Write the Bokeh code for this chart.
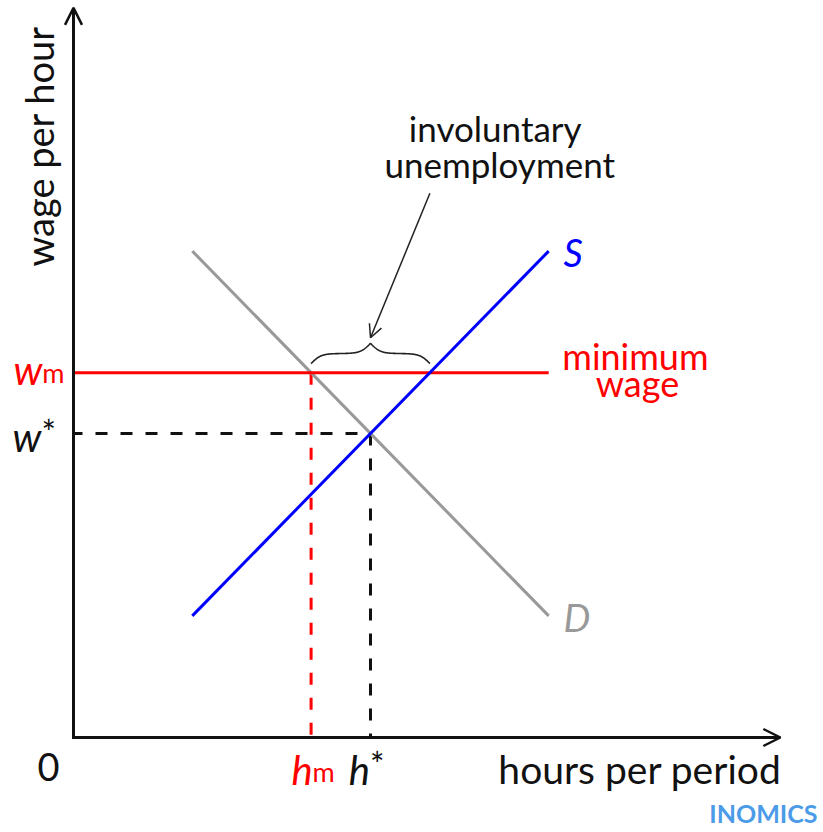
import numpy as np
from bokeh.plotting import figure
from bokeh.models import Range1d, Arrow, OpenHead, Label
from bokeh.embed import file_html
from bokeh.resources import INLINE

# ---- data (economic units) ----
supply_h = [4, 16]
supply_w = [4, 16]
demand_h = [4, 16]
demand_w = [16, 4]
w_star = 10
h_star = 10
w_min = 12
h_min = 8
h_supply_at_min = 12
min_wage_h = [0, 16]
x_axis_end = 23.8
y_axis_end = 24.0

FONT = "Lato"
BLACK = "#111111"
RED = "#ff0000"
BLUE = "#0000ff"
GRAY = "#999999"

p = figure(width=823, height=832,
           x_range=Range1d(-2.458, 25.253), y_range=Range1d(-3.125, 24.243),
           output_backend="svg", toolbar_location=None, min_border=0,
           x_axis_type=None, y_axis_type=None)
p.outline_line_color = None
p.background_fill_color = "white"

# dashed guides
p.line([0, h_star], [w_star, w_star], line_color=BLACK, line_width=3, line_dash="12 13", line_dash_offset=3)
p.line([h_star, h_star], [w_star, 0], line_color=BLACK, line_width=3, line_dash="12 13")
p.line([h_min, h_min], [w_min, 0], line_color=RED, line_width=3, line_dash="12 13")

# demand, minimum wage, supply
p.line(demand_h, demand_w, line_color=GRAY, line_width=3)
p.line(min_wage_h, [w_min, w_min], line_color=RED, line_width=3)
p.line(supply_h, supply_w, line_color=BLUE, line_width=3)

# axes
p.line([0, 0, x_axis_end], [y_axis_end, 0, 0], line_color=BLACK, line_width=3, line_join="miter")
p.add_layout(Arrow(end=OpenHead(size=17, line_width=2.5, line_color=BLACK),
                   x_start=x_axis_end - 0.5, y_start=0, x_end=x_axis_end, y_end=0,
                   line_width=3, line_color=BLACK))
p.add_layout(Arrow(end=OpenHead(size=17, line_width=2.5, line_color=BLACK),
                   x_start=0, y_start=y_axis_end - 0.5, x_end=0, y_end=y_axis_end,
                   line_width=3, line_color=BLACK))

# curly brace over the unemployment gap
def brace_path(x0, x1, y0, height, beta=6.0, n=400):
    xs = np.linspace(x0, x1, n)
    half = n // 2
    hx = xs[:half]
    hy = 1 / (1 + np.exp(-beta * (hx - hx[0]))) + 1 / (1 + np.exp(-beta * (hx - hx[-1])))
    ys = np.concatenate([hy, hy[::-1]])
    ys = (ys - ys.min()) / (ys.max() - ys.min())
    return xs, y0 + height * ys

bx, by = brace_path(h_min, h_supply_at_min, w_min + 0.30, 0.66)
p.line(bx, by, line_color="#222222", line_width=1.6)

brace_mid = (h_min + h_supply_at_min) / 2
p.add_layout(Arrow(end=OpenHead(size=13, line_width=1.5, line_color="#222222"),
                   x_start=brace_mid + 2.0, y_start=w_min + 5.9,
                   x_end=brace_mid, y_end=w_min + 1.15,
                   line_width=1.5, line_color="#222222"))

def lab(text, x, y, size, color=BLACK, align="left", style="normal", angle=0, baseline="alphabetic"):
    p.add_layout(Label(x=x, y=y, text=text, text_font=FONT, text_font_size=f"{size}px",
                       text_color=color, text_align=align, text_font_style=style,
                       text_baseline=baseline, angle=angle))

# axis titles
lab("hours per period", x_axis_end + 0.04, -1.05, 39, align="right")
lab("0", -0.842, -0.98, 38, align="center")
lab("wage per hour", -1.17, 23.40, 38, align="right", angle=np.pi / 2)

# tick-like symbols
lab("w", -1.05, w_min + 0.10, 40, color=RED, align="right", style="italic")
lab("m", -1.05, w_min + 0.02, 27, color=RED, align="left")
lab("w", -1.08, w_star - 0.10, 40, align="right", style="italic")
lab("*", -1.08, w_star + 0.05, 34, align="left")
lab("h", h_min + 0.05, -1.08, 40, color=RED, align="right", style="italic")
lab("m", h_min + 0.05, -1.12, 27, color=RED, align="left")
lab("h", h_star - 0.02, -1.08, 40, align="right", style="italic")
lab("*", h_star - 0.02, -0.87, 34, align="left")

# curve labels
lab("S", 16.5, 15.96, 38, color=BLUE, style="italic")
lab("D", 16.5, 3.98, 38, color=GRAY, style="italic")
lab("minimum", 18.92, 12.55, 36, color=RED, align="center")
lab("wage", 18.99, 11.65, 36, color=RED, align="center")

# annotation text
lab("involuntary", 14.2, 20.06, 35, align="center")
lab("unemployment", 14.35, 18.85, 35, align="center")

# watermark
lab("INOMICS", 25.05, -2.50, 25, color="#4c9be8", align="right", style="bold")

open("out.html", "w").write(file_html(p, INLINE))
